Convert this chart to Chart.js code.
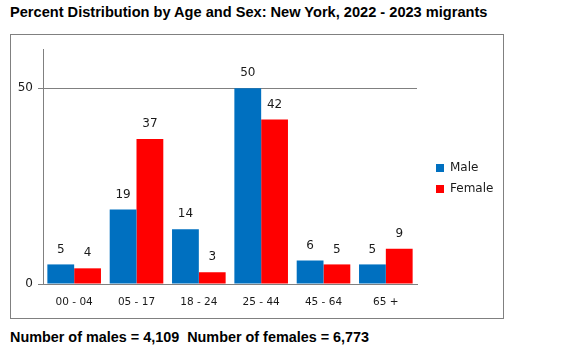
<!DOCTYPE html>
<html>
<head>
<meta charset="utf-8">
<script src="https://cdn.jsdelivr.net/npm/chart.js@4.4.1/dist/chart.umd.min.js"></script>
<style>
  html, body { margin: 0; padding: 0; background: #fff; }
  body { width: 572px; height: 357px; position: relative; overflow: hidden; }
  .hdr { position: absolute; left: 10px; font: bold 14.6px "Liberation Sans", Arial, sans-serif; line-height: 14.6px; color: #000; white-space: pre; }
  #title { top: 5px; }
  #footer { top: 330px; font-size: 14.4px; }
  #box { position: absolute; left: 10px; top: 34px; width: 494px; height: 285px; box-sizing: border-box; border: 1px solid #808080; }
  #wrap { position: relative; width: 492px; height: 283px; }
</style>
</head>
<body>
<div id="title" class="hdr">Percent Distribution by Age and Sex: New York, 2022 - 2023 migrants</div>
<div id="box"><div id="wrap"><canvas id="c"></canvas></div></div>
<div id="footer" class="hdr">Number of males = 4,109  Number of females = 6,773</div>
<script>
const categories = ["00 - 04", "05 - 17", "18 - 24", "25 - 44", "45 - 64", "65 +"];
const maleValues = [5, 19, 14, 50, 6, 5];
const femaleValues = [4, 37, 3, 42, 5, 9];
const yTickValues = [0, 50];
const seriesNames = ["Male", "Female"];

const FONT = '"DejaVu Sans", Verdana, sans-serif';
const GRAY = '#808080';

const legendPlacement = {
  id: 'legendPlacement',
  beforeInit(chart) {
    const lg = chart.legend;
    if (!lg) return;
    const f = lg.fit;
    lg.fit = function () { f.call(this); this.width = 86; };
  },
  afterLayout(chart) {
    const lg = chart.legend;
    if (!lg) return;
    lg.left = chart.chartArea.right + 10;
    lg.top = 2;
    lg.bottom = chart.height + 2;
  }
};

const valueLabels = {
  id: 'valueLabels',
  afterDatasetsDraw(chart) {
    const ctx = chart.ctx;
    ctx.save();
    ctx.font = '12px ' + FONT;
    ctx.fillStyle = '#1a1a1a';
    ctx.textAlign = 'center';
    ctx.textBaseline = 'middle';
    chart.data.datasets.forEach((ds, i) => {
      const meta = chart.getDatasetMeta(i);
      meta.data.forEach((bar, j) => {
        ctx.fillText(String(ds.data[j]), bar.x, bar.y - 15);
      });
    });
    ctx.restore();
  }
};

new Chart(document.getElementById('c'), {
  type: 'bar',
  data: {
    labels: categories,
    datasets: [
      { label: seriesNames[0], data: maleValues, backgroundColor: '#0070C0', borderWidth: 0,
        categoryPercentage: 0.86, barPercentage: 1.0 },
      { label: seriesNames[1], data: femaleValues, backgroundColor: '#FF0000', borderWidth: 0,
        categoryPercentage: 0.86, barPercentage: 1.0 }
    ]
  },
  options: {
    responsive: true,
    maintainAspectRatio: false,
    animation: false,
    devicePixelRatio: 1,
    layout: { padding: { top: 14, left: 0, right: 0, bottom: 0 } },
    plugins: {
      title: { display: false },
      tooltip: { enabled: false },
      legend: {
        display: true,
        position: 'right',
        align: 'center',
        labels: {
          boxWidth: 8, boxHeight: 8, padding: 9,
          color: '#1a1a1a',
          font: { family: FONT, size: 12 }
        }
      }
    },
    scales: {
      x: {
        grid: { display: true, drawOnChartArea: false, drawTicks: false },
        border: { display: true, color: GRAY, width: 1 },
        ticks: { color: '#1a1a1a', font: { family: FONT, size: 10.5 }, padding: 12, maxRotation: 0, autoSkip: false },
        afterFit(scale) { scale.height = 34; }
      },
      y: {
        min: 0, max: 60,
        ticks: { stepSize: 50, color: '#1a1a1a', font: { family: FONT, size: 12 }, padding: 5 },
        afterBuildTicks(scale) { scale.ticks = yTickValues.map(v => ({ value: v })); },
        grid: { color: GRAY, lineWidth: 1, tickLength: 5, drawTicks: true },
        border: { display: true, color: GRAY, width: 1 },
        afterFit(scale) { scale.width = 32; }
      }
    }
  },
  plugins: [legendPlacement, valueLabels]
});
</script>
</body>
</html>
